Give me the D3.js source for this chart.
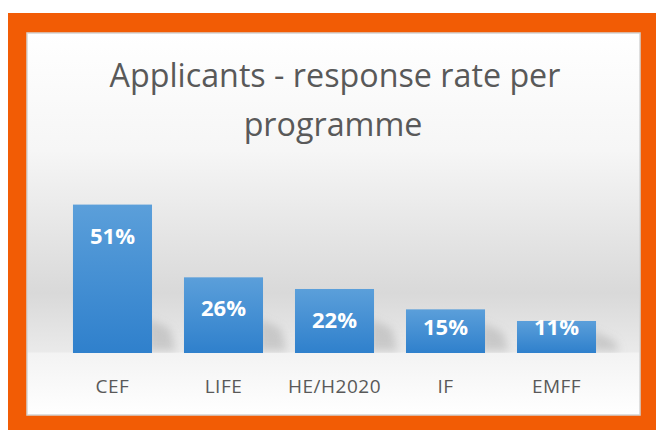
<!DOCTYPE html>
<html><head><meta charset="utf-8">
<script src="https://cdn.jsdelivr.net/npm/d3@7"></script>
<style>html,body{margin:0;padding:0;background:#fff;overflow:hidden}</style>
</head><body>
<svg id="c" width="656" height="430"></svg>
<script>
const categories = ["CEF", "LIFE", "HE/H2020", "IF", "EMFF"];
const values = [51, 26, 22, 15, 11];
const labels = ["51%", "26%", "22%", "15%", "11%"];
const titleLines = ["Applicants - response rate per", "programme"];

const svg = d3.select("#c");
const defs = svg.append("defs");

const bg = defs.append("linearGradient").attr("id","bg")
  .attr("gradientUnits","userSpaceOnUse").attr("x1",0).attr("y1",33).attr("x2",0).attr("y2",415);
[[33,"#ffffff"],[150,"#f6f6f6"],[293,"#d9d9d9"],[352,"#eaeaea"],[353,"#f3f3f3"],[415,"#ffffff"]]
  .forEach(([yy,c]) => bg.append("stop").attr("offset",(yy-33)/(415-33)).attr("stop-color",c));

const bar = defs.append("linearGradient").attr("id","bar").attr("x1",0).attr("y1",0).attr("x2",0).attr("y2",1);
bar.append("stop").attr("offset",0).attr("stop-color","#5b9fda");
bar.append("stop").attr("offset",1).attr("stop-color","#2f80cc");

defs.append("filter").attr("id","blur").attr("x","-50%").attr("y","-50%").attr("width","200%").attr("height","200%")
  .append("feGaussianBlur").attr("stdDeviation",4);
defs.append("clipPath").attr("id","floor").append("rect").attr("x",27).attr("y",33).attr("width",613).attr("height",320);

// orange frame
svg.append("rect").attr("x",8).attr("y",13).attr("width",660).attr("height",430).attr("fill","#f25c05");
// panel
svg.append("rect").attr("x",27).attr("y",33).attr("width",613).attr("height",382).attr("fill","url(#bg)")
  .attr("stroke","#d4d4d4").attr("stroke-width",1.5);

const x = d3.scaleBand().domain(categories).range([41, 628]).paddingInner(0.288).paddingOuter(0.288);
const y = d3.scaleLinear().domain([0, 60]).range([353, 178.4]);

const data = categories.map((c,i)=>({c, v: values[i], l: labels[i]}));

// soft shadows behind bars
svg.append("g").attr("clip-path","url(#floor)").append("g").attr("filter","url(#blur)")
  .selectAll("path").data(data).join("path")
  .attr("d", d => {
    const x0 = x(d.c) + x.bandwidth(), yb = y(0), h = Math.min(34, (y(0)-y(d.v))*0.7);
    return `M${x0-4},${yb-2} L${x0-4},${yb-h} L${x0+18},${yb-h+10} L${x0+24},${yb-2} Z`;
  })
  .attr("fill","#909090").attr("opacity",0.35);

svg.append("g").selectAll("rect").data(data).join("rect")
  .attr("x", d => x(d.c)).attr("width", x.bandwidth())
  .attr("y", d => y(d.v)).attr("height", d => y(0) - y(d.v))
  .attr("fill","url(#bar)");

svg.append("g").selectAll("text").data(data).join("text")
  .attr("x", d => x(d.c) + x.bandwidth()/2)
  .attr("y", d => Math.min(y(d.v) + 39, 335))
  .attr("text-anchor","middle")
  .attr("font-family","'Open Sans', sans-serif").attr("font-weight","bold").attr("font-size",22)
  .attr("fill","#ffffff").text(d => d.l);

// category axis
const ax = svg.append("g").attr("transform","translate(0,393)")
  .call(d3.axisBottom(x).tickSize(0).tickPadding(0));
ax.select(".domain").remove();
ax.selectAll("text").attr("dy",0).attr("font-family","'Open Sans', sans-serif").attr("font-size",19)
  .attr("fill","#595959").attr("letter-spacing",0.5);

// title
const t = svg.append("g").attr("font-family","'Open Sans', sans-serif").attr("fill","#595959").attr("text-anchor","middle");
const t1 = t.append("text").attr("x",335).attr("y",87).attr("font-size",30).text(titleLines[0]);
const w = t1.node().getComputedTextLength();
const fs = 30 * 451 / w;
t1.attr("font-size", fs);
t.append("text").attr("x",333).attr("y",136).attr("font-size",fs).text(titleLines[1]);
</script>
</body></html>
